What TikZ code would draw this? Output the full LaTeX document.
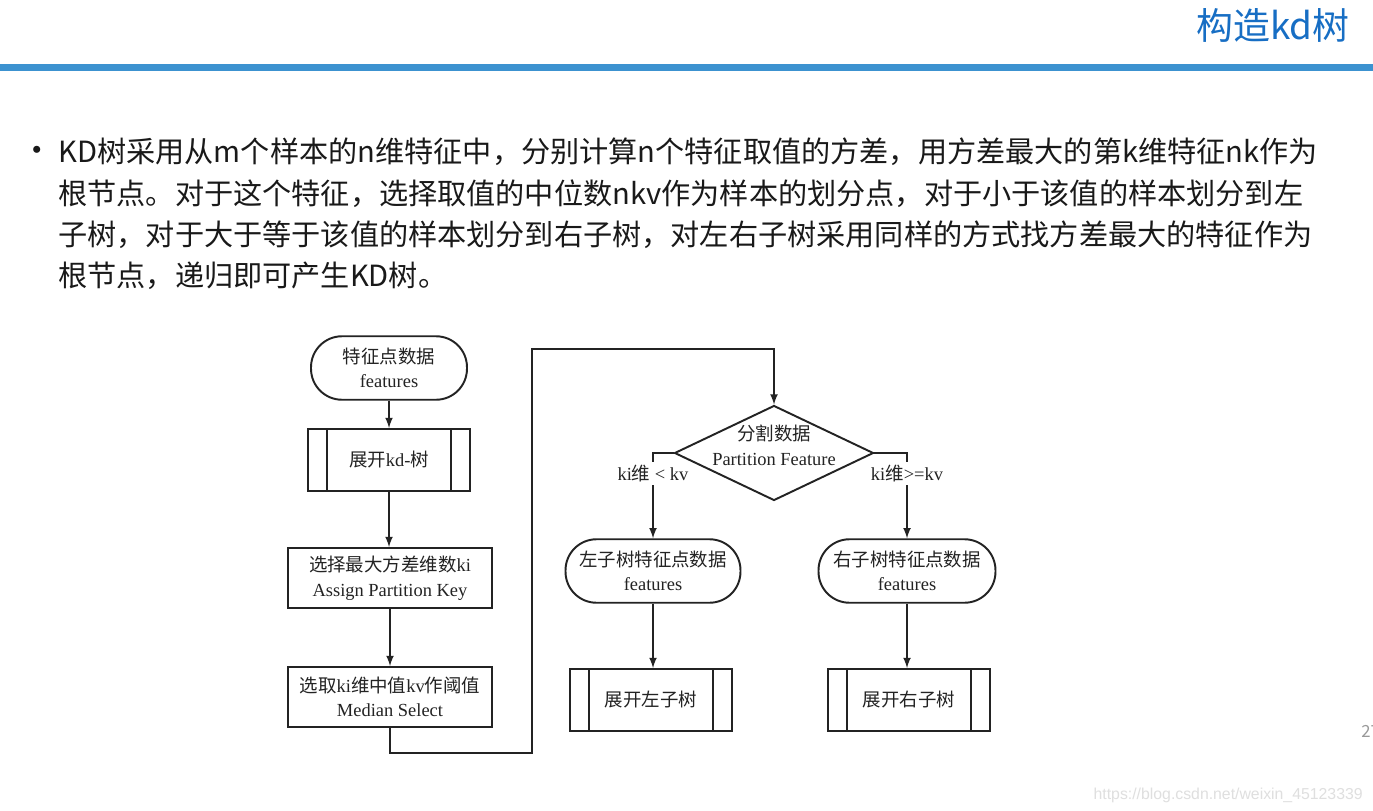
\documentclass[tikz,border=0pt]{standalone}
\usepackage{fontspec}
\setmainfont{Liberation Serif}
\newfontfamily\cjkfont{Noto Sans CJK SC}
\newfontfamily\urlfont{Liberation Sans}
\usetikzlibrary{shapes.geometric}

\definecolor{titleblue}{RGB}{23,110,196}
\definecolor{barblue}{RGB}{60,146,208}
\definecolor{ink}{RGB}{35,35,35}
\newcommand{\zh}[1]{{\cjkfont #1}}

\tikzset{
  chart/.style={draw=ink, line width=1.1pt, text=ink, font=\fontsize{10.5}{14}\selectfont, align=center},
  terminal/.style={chart, rectangle, rounded corners=0.62cm, minimum height=1.27cm},
  procbox/.style={chart, rectangle, minimum width=4.07cm, minimum height=1.2cm},
  subproc/.style={chart, rectangle, minimum width=3.25cm, minimum height=1.24cm},
  decision/.style={chart, diamond, minimum width=3.98cm, minimum height=1.9cm, inner sep=0pt},
  flow/.style={draw=ink, line width=1pt, -latex},
  cond/.style={fill=white, text=ink, font=\fontsize{10.5}{14}\selectfont, inner sep=1.5pt},
  bodytext/.style={anchor=base west, inner sep=0pt, text=black!90, font=\cjkfont\fontsize{16.6}{23}\selectfont},
}

\begin{document}
\begin{tikzpicture}[x=0.02cm, y=-0.02cm]

	\path[fill=white] (0,0) rectangle (1373,811);
	\useasboundingbox (0,0) rectangle (1373,811);

	% slide head
	\node[anchor=base east, inner sep=0pt, text=titleblue, font=\cjkfont\fontsize{21}{25}\selectfont] (title) at (1350,40) {构造kd树};
	\fill[barblue] (0,64) rectangle (1373,71);

	% bullet text
	\node[bodytext, anchor=base, font=\cjkfont\fontsize{19}{23}\selectfont] (dot) at (37,163) {•};
	\node[bodytext] (line1) at (58,163) {KD树采用从m个样本的n维特征中，分别计算n个特征取值的方差，用方差最大的第k维特征nk作为};
	\node[bodytext] (line2) at (58,204) {根节点。对于这个特征，选择取值的中位数nkv作为样本的划分点，对于小于该值的样本划分到左};
	\node[bodytext] (line3) at (58,245) {子树，对于大于等于该值的样本划分到右子树，对左右子树采用同样的方式找方差最大的特征作为};
	\node[bodytext] (line4) at (58,286) {根节点，递归即可产生KD树。};

	% left column
	\node[terminal, minimum width=3.12cm] (start) at (389,368) {\zh{特征点数据}\\features};
	\node[subproc] (expand) at (389,460) {\zh{展开}kd-\zh{树}};
	\node[procbox] (assign) at (390,578) {\zh{选择最大方差维数}ki\\Assign Partition Key};
	\node[procbox] (median) at (390,697) {\zh{选取}ki\zh{维中值}kv\zh{作阈值}\\Median Select};

	% right part
	\node[decision] (split) at (774,453) {\makebox[0pt]{\begin{tabular}{@{}c@{}}\zh{分割数据}\\Partition Feature\end{tabular}\rule[-17pt]{0pt}{17pt}}};
	\node[terminal, minimum width=3.5cm] (leftdata) at (653,571) {\zh{左子树特征点数据}\\features};
	\node[terminal, minimum width=3.54cm] (rightdata) at (907,571) {\zh{右子树特征点数据}\\features};
	\node[subproc] (leftexp) at (651,700) {\zh{展开左子树}};
	\node[subproc] (rightexp) at (909,700) {\zh{展开右子树}};

	% side bars of the sub-process boxes
	\foreach \n in {expand, leftexp, rightexp} {
		\draw[ink, line width=1.1pt] ([xshift=0.4cm]\n.north west) -- ([xshift=0.4cm]\n.south west);
		\draw[ink, line width=1.1pt] ([xshift=-0.4cm]\n.north east) -- ([xshift=-0.4cm]\n.south east);
	}

	\draw[flow] (start.south) -- (expand.north);
	\draw[flow] (expand.south) -- (expand.south |- assign.north);
	\draw[flow] (assign.south) -- (median.north);

	\coordinate (loopbot) at (532,753);
	\coordinate (looptop) at (532,349);
	\draw[flow] (median.south) |- (loopbot) -- (looptop) -| (split.north);

	\draw[flow] (split.west) -| (leftdata.north) node[cond, pos=0.62] (lesslabel) {ki\zh{维} < kv};
	\draw[flow] (split.east) -| (rightdata.north) node[cond, pos=0.62] (geqlabel) {ki\zh{维}>=kv};

	\draw[flow] (leftdata.south) -- (leftdata.south |- leftexp.north);
	\draw[flow] (rightdata.south) -- (rightdata.south |- rightexp.north);

	% page number and watermark
	\node[anchor=base west, inner sep=0pt, text=gray!80, font=\cjkfont\fontsize{9.5}{11}\selectfont] (pagenum) at (1361,737) {27};
	\node[anchor=base east, inner sep=0pt, text=gray!25, font=\urlfont\fontsize{9}{11}\selectfont] (mark) at (1363,799) {https://blog.csdn.net/weixin\_45123339};

\end{tikzpicture}
\end{document}
